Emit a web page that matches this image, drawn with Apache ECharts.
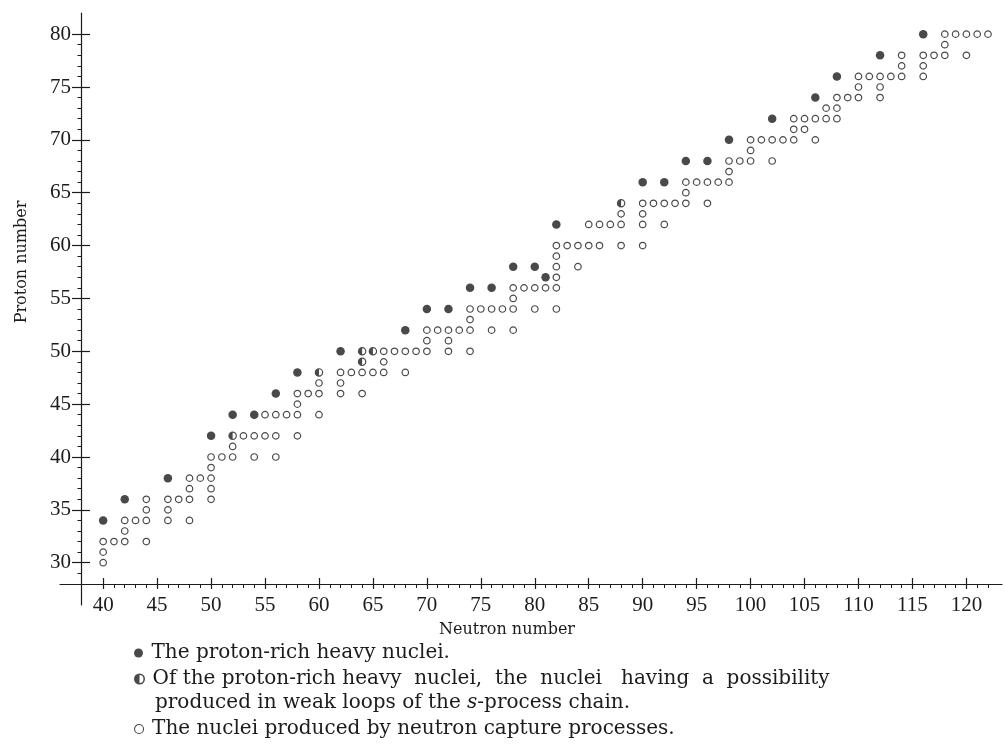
<!DOCTYPE html>
<html>
<head>
<meta charset="utf-8">
<script src="https://cdn.jsdelivr.net/npm/echarts@6/dist/echarts.min.js"></script>
<style>html,body{margin:0;padding:0;background:#fff}#c{width:1005px;height:755px}</style>
</head>
<body>
<div id="c"></div>
<script>
// ---- data: [neutron number N, proton number Z] ----
const pRich = [[40,34],[42,36],[46,38],[50,42],[52,44],[54,44],[56,46],[58,48],[62,50],[68,52],[70,54],[72,54],[74,56],[76,56],[78,58],[80,58],[81,57],[82,62],[90,66],[92,66],[94,68],[96,68],[98,70],[102,72],[106,74],[108,76],[112,78],[116,80]];
const pRichWeakS = [[52,42],[60,48],[64,49],[64,50],[65,50],[88,64]];
const sProcess = [
 [40,30],[40,31],[40,32],[41,32],[42,32],[44,32],[42,33],
 [42,34],[43,34],[44,34],[46,34],[48,34],[44,35],[46,35],
 [44,36],[46,36],[47,36],[48,36],[50,36],[48,37],[50,37],
 [48,38],[49,38],[50,38],[50,39],[50,40],[51,40],[52,40],[54,40],[56,40],[52,41],
 [53,42],[54,42],[55,42],[56,42],[58,42],
 [55,44],[56,44],[57,44],[58,44],[60,44],[58,45],
 [58,46],[59,46],[60,46],[62,46],[64,46],[60,47],[62,47],
 [62,48],[63,48],[64,48],[65,48],[66,48],[68,48],[66,49],
 [66,50],[67,50],[68,50],[69,50],[70,50],[72,50],[74,50],[70,51],[72,51],
 [70,52],[71,52],[72,52],[73,52],[74,52],[76,52],[78,52],[74,53],
 [74,54],[75,54],[76,54],[77,54],[78,54],[80,54],[82,54],[78,55],
 [78,56],[79,56],[80,56],[81,56],[82,56],[82,57],[82,58],[84,58],[82,59],
 [82,60],[83,60],[84,60],[85,60],[86,60],[88,60],[90,60],
 [85,62],[86,62],[87,62],[88,62],[90,62],[92,62],[88,63],[90,63],
 [90,64],[91,64],[92,64],[93,64],[94,64],[96,64],[94,65],
 [94,66],[95,66],[96,66],[97,66],[98,66],[98,67],
 [98,68],[99,68],[100,68],[102,68],[100,69],
 [100,70],[101,70],[102,70],[103,70],[104,70],[106,70],[104,71],[105,71],
 [104,72],[105,72],[106,72],[107,72],[108,72],[107,73],[108,73],
 [108,74],[109,74],[110,74],[112,74],[110,75],[112,75],
 [110,76],[111,76],[112,76],[113,76],[114,76],[116,76],[114,77],[116,77],
 [114,78],[116,78],[117,78],[118,78],[120,78],[118,79],
 [118,80],[119,80],[120,80],[121,80],[122,80]
];
const xMajorTicks = [40,45,50,55,60,65,70,75,80,85,90,95,100,105,110,115,120];
const xMinorTicks = [41,42,43,44,46,47,48,49,51,52,53,54,56,57,58,59,61,62,63,64,66,67,68,69,71,72,73,74,76,77,78,79,81,82,83,84,86,87,88,89,91,92,93,94,96,97,98,99,101,102,103,104,106,107,108,109,111,112,113,114,116,117,118,119,121,122];
const yMajorTicks = [30,35,40,45,50,55,60,65,70,75,80];
const yMinorTicks = [29,31,32,33,34,36,37,38,39,41,42,43,44,46,47,48,49,51,52,53,54,56,57,58,59,61,62,63,64,66,67,68,69,71,72,73,74,76,77,78,79];
const seriesNames = [
 'The proton-rich heavy nuclei.',
 'Of the proton-rich heavy nuclei, the nuclei having a possibility',
 'The nuclei produced by neutron capture processes.'
];
const legendLine2 = 'Of the proton-rich heavy  nuclei,  the  nuclei   having  a  possibility';
const legendLine3 = '{a|produced in weak loops of the }{i|s}{a|-process chain.}';
const xTitle = 'Neutron number';
const yTitle = 'Proton number';

// ---- styles ----
const INK = '#1c1c1c';
const SERIF = 'DejaVu Serif';
const TICKFONT = 'Liberation Serif';
const HALF = 'path://M10,0A10,10,0,1,1,10,20A10,10,0,1,1,10,0ZM10,2.8A7.2,7.2,0,1,0,10,17.2A7.2,7.2,0,1,0,10,2.8ZM10,2.8A7.2,7.2,0,0,0,10,17.2Z';
const X_MIN = 36, X_MAX = 123.3, Y_MIN = 26, Y_MAX = 82;
const AX_OFF = -21;

function xAx(extra) {
  return Object.assign({
    type: 'value', min: X_MIN, max: X_MAX, position: 'bottom', offset: AX_OFF,
    splitLine: {show: false},
    axisLine: {show: false, onZero: false},
    axisLabel: {show: false},
    axisTick: {show: false}
  }, extra);
}
function yAx(extra) {
  return Object.assign({
    type: 'value', min: Y_MIN, max: Y_MAX, position: 'left', offset: AX_OFF,
    splitLine: {show: false},
    axisLine: {show: false, onZero: false},
    axisLabel: {show: false},
    axisTick: {show: false}
  }, extra);
}
const lineSt = {color: INK, width: 1.2};
const legendText = {fontFamily: SERIF, fontSize: 20, color: INK, lineHeight: 24};

const chart = echarts.init(document.getElementById('c'), null, {renderer: 'canvas'});
chart.setOption({
  animation: false,
  backgroundColor: '#fff',
  grid: {left: 60, right: 3, top: 13, bottom: 150, containLabel: false},
  xAxis: [
    xAx({axisLine: {show: true, onZero: false, lineStyle: lineSt},
         axisTick: {show: true, customValues: xMajorTicks, length: 5, lineStyle: lineSt},
         axisLabel: {show: true, customValues: xMajorTicks, margin: 11, color: INK,
                     fontFamily: TICKFONT, fontSize: 21}}),
    xAx({axisTick: {show: true, inside: true, customValues: xMajorTicks, length: 6, lineStyle: lineSt}}),
    xAx({axisTick: {show: true, customValues: xMinorTicks, length: 4, lineStyle: {color: INK, width: 1}}})
  ],
  yAxis: [
    yAx({axisLine: {show: true, onZero: false, lineStyle: lineSt},
         axisTick: {show: true, customValues: yMajorTicks, length: 9, lineStyle: lineSt},
         axisLabel: {show: true, customValues: yMajorTicks, margin: 10, color: INK,
                     fontFamily: TICKFONT, fontSize: 21}}),
    yAx({axisTick: {show: true, inside: true, customValues: yMajorTicks, length: 9, lineStyle: lineSt}}),
    yAx({axisTick: {show: true, customValues: yMinorTicks, length: 3.5, lineStyle: {color: INK, width: 1}}})
  ],
  legend: [
    {data: [seriesNames[0]], left: 134, top: 641, orient: 'vertical', padding: 0,
     itemWidth: 16, itemHeight: 9, selectedMode: false, textStyle: legendText},
    {data: [seriesNames[1]], left: 134, top: 667, orient: 'vertical', padding: 0,
     itemWidth: 16, itemHeight: 11, selectedMode: false, textStyle: legendText,
     formatter: function () { return legendLine2; }},
    {data: [seriesNames[2]], left: 134, top: 717, orient: 'vertical', padding: 0,
     itemWidth: 16, itemHeight: 9, selectedMode: false,
     itemStyle: {color: '#fff', borderColor: INK, borderWidth: 1.1}, textStyle: legendText}
  ],
  graphic: [
    {type: 'text', x: 155, y: 703, silent: true,
     style: {text: legendLine3, verticalAlign: 'middle', align: 'left',
             rich: {a: {fontFamily: SERIF, fontSize: 20, fill: INK, color: INK},
                    i: {fontFamily: SERIF, fontSize: 20, fontStyle: 'italic', fill: INK, color: INK}}}},
    {type: 'text', x: 507, y: 630, silent: true,
     style: {text: xTitle, font: '16px "DejaVu Serif"', fill: INK, align: 'center', verticalAlign: 'middle'}},
    {type: 'text', x: 22, y: 262, rotation: Math.PI / 2, silent: true,
     style: {text: yTitle, font: '16px "DejaVu Serif"', fill: INK, align: 'center', verticalAlign: 'middle'}}
  ],
  series: [
    {name: seriesNames[2], type: 'scatter', data: sProcess, symbol: 'circle', symbolSize: 6.5,
     itemStyle: {color: '#fff', borderColor: INK, borderWidth: 1.2}, silent: true, z: 2},
    {name: seriesNames[0], type: 'scatter', data: pRich, symbol: 'circle', symbolSize: 8.5,
     itemStyle: {color: INK}, silent: true, z: 3},
    {name: seriesNames[1], type: 'scatter', data: pRichWeakS, symbol: HALF, symbolSize: 8.5,
     symbolKeepAspect: true, itemStyle: {color: INK}, silent: true, z: 3}
  ]
});
</script>
</body>
</html>
